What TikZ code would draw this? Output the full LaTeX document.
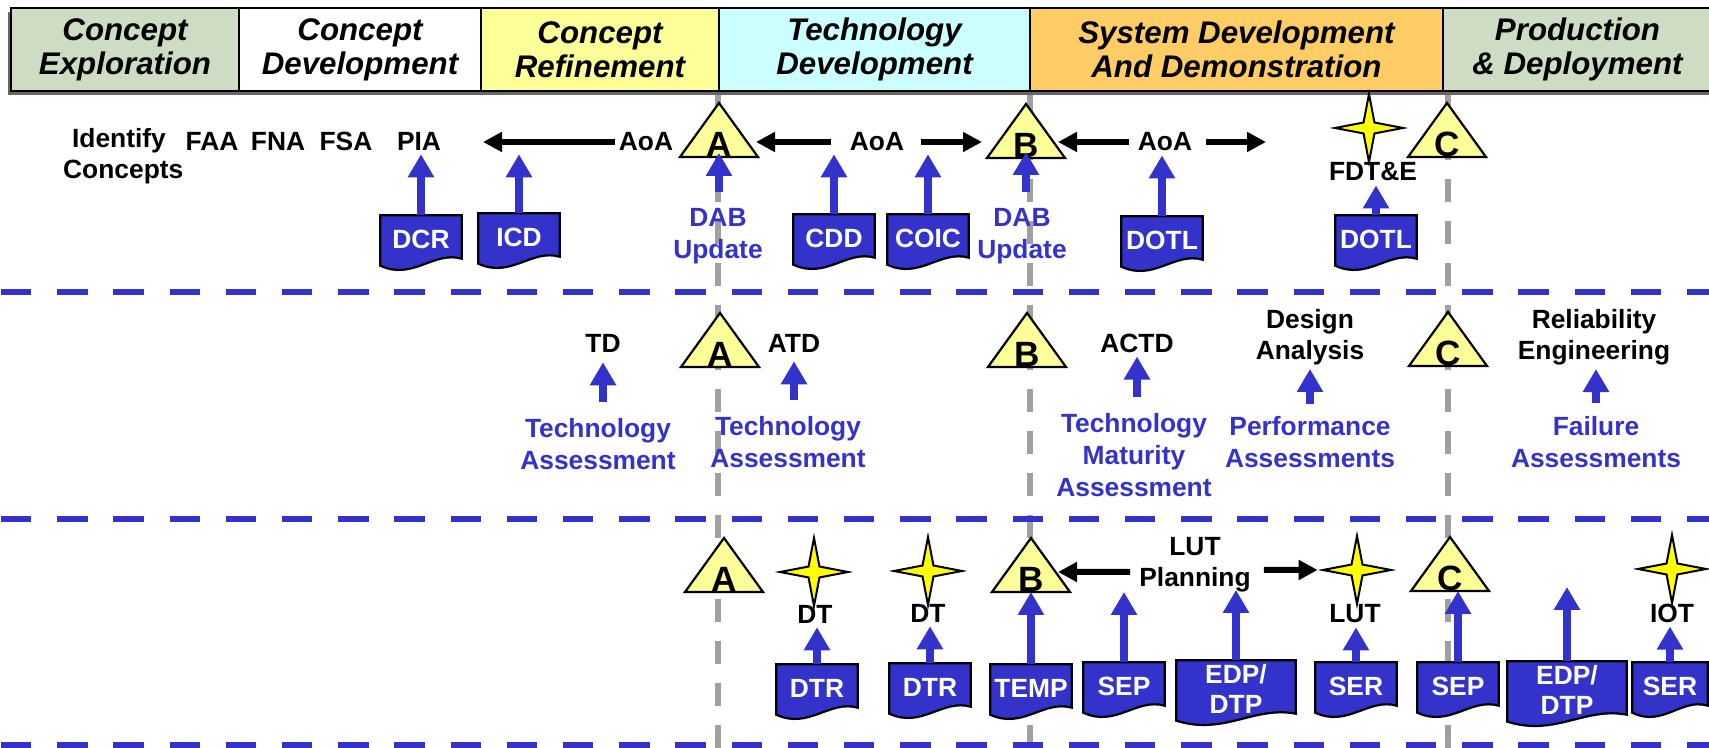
\documentclass[tikz,border=0pt]{standalone}
\usepackage{fontspec}
\setmainfont{Liberation Sans}
\usepackage{xcolor}
\definecolor{ddblue}{RGB}{51,51,204}
\definecolor{msyellow}{RGB}{255,255,153}
\definecolor{evyellow}{RGB}{255,255,0}
\definecolor{phgreen}{RGB}{206,220,196}
\definecolor{phcyan}{RGB}{204,255,255}
\definecolor{phorange}{RGB}{255,204,102}
\definecolor{lngray}{RGB}{160,160,160}
\usetikzlibrary{arrows.meta,positioning,shapes.geometric,calc}
\pgfdeclarelayer{back}
\pgfdeclarelayer{docs}
\pgfsetlayers{back,docs,main}

\begin{document}
\begin{tikzpicture}[x=0.1mm,y=-0.1mm,
  hdr/.style={draw,line width=0.25mm,minimum height=8.3mm,inner sep=0pt,align=center,
    font=\fontsize{8.9}{9.7}\selectfont\bfseries\itshape},
  act/.style={font=\fontsize{7.5}{8.8}\selectfont\bfseries,inner sep=1pt,align=center},
  asmt/.style={act,text=ddblue,font=\fontsize{7.5}{9.1}\selectfont\bfseries},
  doc/.style={act,text=white,minimum width=8mm,minimum height=4.6mm,
    font=\fontsize{7.5}{8.5}\selectfont\bfseries},
  docline/.style={draw=black,line width=0.22mm,fill=ddblue},
  mstri/.style={draw=black,line width=0.22mm,fill=msyellow},
  msl/.style={font=\fontsize{10}{10}\selectfont\bfseries,inner sep=0pt,anchor=base},
  evt/.style={star,star points=4,star point ratio=4.4,draw=black,line width=0.2mm,
    fill=evyellow,minimum size=6.8mm,inner sep=0pt},
  blk/.style={line width=0.6mm,-{Triangle[length=1.9mm,width=1.9mm]}},
  upa/.style={ddblue,line width=0.8mm,-{Triangle[length=2.3mm,width=2.5mm]}},
  rowline/.style={ddblue,line width=0.6mm,dash pattern=on 3.04mm off 2.58mm},
  msline/.style={lngray,line width=0.55mm,dash pattern=on 2.3mm off 1.9mm,dash phase=3.9mm}
]
  \useasboundingbox (0,0) rectangle (1709,748);
  \clip (0,0) rectangle (1709,748);

  % phase headers
  \fill[black!60] (8,12) rectangle (1709,95);
  \node[hdr,fill=phgreen,minimum width=22.8mm] (ph1) at (125,49.5) {Concept\\Exploration};
  \node[hdr,fill=white,minimum width=24.2mm] (ph2) at (360,49.5) {Concept\\Development};
  \node[hdr,fill=msyellow,minimum width=23.8mm] (ph3) at (600,49.5) {Concept\\Refinement};
  \node[hdr,fill=phcyan,minimum width=31.1mm] (ph4) at (874.5,49.5) {Technology\\Development};
  \node[hdr,fill=phorange,minimum width=41.3mm] (ph5) at (1236.5,49.5) {System Development\\And Demonstration};
  \node[hdr,fill=phgreen,minimum width=26.9mm] (ph6) at (1577.5,49.5) {Production\\\& Deployment};

  \begin{pgfonlayer}{back}
    \foreach \x in {718,1030,1448} \draw[msline] (\x,92) -- (\x,748);
    \foreach \y in {292,519,745} \draw[rowline] (1,\y) -- (1709,\y);
  \end{pgfonlayer}

  % milestones
  \foreach \n/\l/\x/\y in {a1/A/719/157,b1/B/1026/158,c1/C/1447/157,
      a2/A/720/367,b2/B/1027/367,c2/C/1448/366,
      a3/A/724/592,b3/B/1031/592,c3/C/1450/591} {
    \draw[mstri] (\x-39,\y) -- (\x,\y-54) -- (\x+39,\y) -- cycle;
    \node[msl] (\n) at (\x,\y) {\l};
  }

  % requirements row
  \node[act] (ident) at (119,141) {Identify};
  \node[act] (faa) at (212,141) {FAA};
  \node[act] (fna) at (278,141) {FNA};
  \node[act] (fsa) at (346,141) {FSA};
  \node[act] (pia) at (419,141) {PIA};
  \node[act,anchor=west] (concepts) at (59,172) {Concepts};
  \node[act] (aoa1) at (646,142) {AoA};
  \node[act] (aoa2) at (877,142) {AoA};
  \node[act] (aoa3) at (1165,142) {AoA};
  \node[evt] (sfdt) at (1369,128) {};
  \node[act] (fdte) at (1373,172) {FDT\&E};
  \node[asmt] (dab1) at (718,236) {DAB\\Update};
  \node[asmt] (dab2) at (1022,236) {DAB\\Update};
  \node[doc] (dcr) at (421,239) {DCR};
  \node[doc] (icd) at (519,237) {ICD};
  \node[doc] (cdd) at (834,238) {CDD};
  \node[doc] (coic) at (928,238) {COIC};
  \node[doc] (dotla) at (1162,240) {DOTL};
  \node[doc] (dotlb) at (1376,239) {DOTL};

  \coordinate (piaend) at (483,142);
  \coordinate (aend) at (756,142);
  \coordinate (bendl) at (982,142);
  \coordinate (bendr) at (1058,142);
  \coordinate (aoaend) at (1266,142);
  \draw[blk] (aoa1.west) -- (piaend);
  \draw[blk] ([xshift=-1.5mm]aoa2.west) -- (aend);
  \draw[blk] ([xshift=1.3mm]aoa2.east) -- (bendl);
  \draw[blk] ([xshift=-0.5mm]aoa3.west) -- (bendr);
  \draw[blk] ([xshift=1mm]aoa3.east) -- (aoaend);

  \draw[upa] (dcr.north) -- (dcr.north |- pia.south);
  \draw[upa] (icd.north) -- (icd.north |- pia.south);
  \draw[upa] (cdd.north) -- (cdd.north |- pia.south);
  \draw[upa] (coic.north) -- (coic.north |- pia.south);
  \draw[upa] (dotla.north) -- (dotla.north |- aoa3.south);
  \draw[upa] (dotlb.north) -- (dotlb.north |- fdte.south);
  \draw[upa] ($(a1.base |- dab1.north)+(0,-12)$) -- ($(a1.base)+(0,-4)$);
  \draw[upa] ($(b1.base |- dab2.north)+(0,-12)$) -- ($(b1.base)+(0,-6)$);

  % technology row
  \node[act] (td) at (603,343) {TD};
  \node[asmt] (techa) at (598,444) {Technology\\Assessment};
  \node[act] (atd) at (794,343) {ATD};
  \node[asmt] (techb) at (788,442) {Technology\\Assessment};
  \node[act] (actd) at (1137,343) {ACTD};
  \node[asmt] (tma) at (1134,455) {Technology\\Maturity\\Assessment};
  \node[act] (design) at (1310,337) {Design\\Analysis};
  \node[asmt] (perf) at (1310,442) {Performance\\Assessments};
  \node[act] (reli) at (1594,337) {Reliability\\Engineering};
  \node[asmt] (fail) at (1596,442) {Failure\\Assessments};

  \draw[upa] ($(td.south |- techa.north)+(0,-12)$) -- ($(td.south)+(0,6)$);
  \draw[upa] ($(atd.south |- techb.north)+(0,-12)$) -- ($(atd.south)+(0,5)$);
  \draw[upa] ($(actd.south |- tma.north)+(0,-12)$) -- (actd.south);
  \draw[upa] ($(design.south |- perf.north)+(0,-8)$) -- (design.south);
  \draw[upa] ($(fail.north)+(0,-9)$) -- (fail.north |- reli.south);

  % test row
  \node[evt] (sdta) at (814,572) {};
  \node[evt] (sdtb) at (928,571) {};
  \node[evt] (slut) at (1357,570) {};
  \node[evt] (siot) at (1672,569) {};
  \node[act] (dta) at (815,614) {DT};
  \node[act] (dtb) at (928,613) {DT};
  \node[act] (plan) at (1195,565) {LUT\\Planning};
  \node[act] (lut) at (1355,614) {LUT};
  \node[act] (iot) at (1672,613) {IOT};
  \node[doc] (dtra) at (817,688) {DTR};
  \node[doc] (dtrb) at (930,687) {DTR};
  \node[doc] (temp) at (1031,688) {TEMP};
  \node[doc] (sepa) at (1124,686) {SEP};
  \node[doc,minimum width=11.8mm,minimum height=5.4mm] (edpa) at (1236,689) {EDP/\\DTP};
  \node[doc] (sera) at (1356,686) {SER};
  \node[doc] (sepb) at (1458,686) {SEP};
  \node[doc,minimum width=11.8mm,minimum height=5.4mm] (edpb) at (1567,690) {EDP/\\DTP};
  \node[doc,minimum width=7.4mm] (serb) at (1670,686) {SER};

  \coordinate (bend3) at (1058,572);
  \draw[blk] ([xshift=-0.5mm,yshift=-0.7mm]plan.west) -- (bend3);
  \draw[blk] ([xshift=0.9mm,yshift=-0.5mm]plan.east) -- (slut.west);

  \draw[upa] (dtra.north) -- (dtra.north |- dta.south);
  \draw[upa] (dtrb.north) -- (dtrb.north |- dtb.south);
  \draw[upa] (temp.north) -- (temp.north |- b3.base);
  \draw[upa] (sepa.north) -- (sepa.north |- b3.base);
  \draw[upa] (edpa.north) -- ($(edpa.north |- b3.base)+(0,-2)$);
  \draw[upa] (sera.north) -- (sera.north |- lut.south);
  \draw[upa] (sepb.north) -- (sepb.north |- c3.base);
  \draw[upa] (edpb.north) -- ($(edpb.north |- c3.base)+(0,-4)$);
  \draw[upa] (serb.north) -- (serb.north |- iot.south);

  \begin{pgfonlayer}{docs}
    \foreach \d in {dcr,icd,cdd,coic,dotla,dotlb,dtra,dtrb,temp,sepa,edpa,sera,sepb,edpb,serb}
      \draw[docline] (\d.north west) -- (\d.north east) -- ([yshift=0.4mm]\d.south east)
        .. controls ($(\d.south east)!0.35!(\d.south west)+(0,-12)$)
        and ($(\d.south west)!0.4!(\d.south east)+(0,18)$) .. ([yshift=-0.3mm]\d.south west) -- cycle;
  \end{pgfonlayer}
\end{tikzpicture}
\end{document}
